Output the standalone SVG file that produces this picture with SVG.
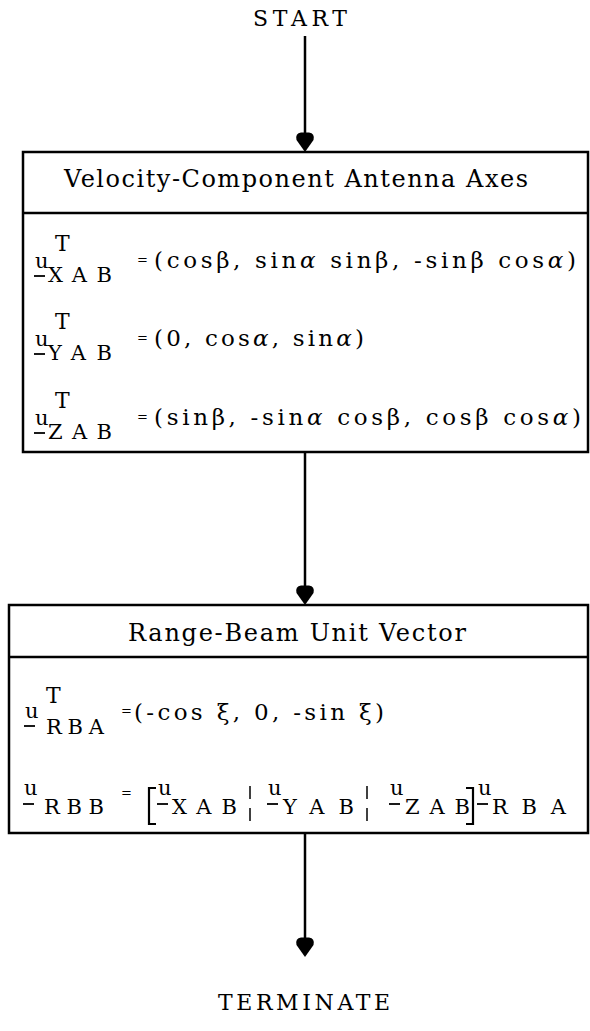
<svg xmlns="http://www.w3.org/2000/svg" width="590" height="1031" viewBox="0 0 590 1031">
<defs>
<style>
.t{font-family:"DejaVu Serif","Liberation Serif",serif;fill:#000}
.m{font-size:23px}
.hd{font-size:24px}
.h{font-size:22px}
.u{font-size:21px}
.s{font-size:21px}
.e{font-size:13px}
.box{fill:#fff;stroke:#000;stroke-width:2.5}
.rule{stroke:#000;stroke-width:2.5}
.bar{stroke:#000;stroke-width:1.8}
.brk{fill:none;stroke:#000;stroke-width:2.2}
.sep{stroke:#000;stroke-width:1.5}
.con{stroke:#000;stroke-width:2.5;fill:none}
</style>
<path id="head" d="M0,0 L-8.5,-12 Q-10,-19 -4,-19.5 L4,-19.5 Q10,-19 8.5,-12 Z"/>
</defs>
<rect width="590" height="1031" fill="#fff"/>

<!-- terminals -->
<g id="start">
<text class="t h" x="253" y="26" textLength="94">START</text>
</g>
<g id="terminate">
<text class="t h" x="218" y="1010" textLength="172">TERMINATE</text>
</g>

<!-- block 1: antenna axes -->
<g id="antenna-axes">
<rect class="box" x="23" y="152" width="565" height="300"/>
<line class="rule" x1="23" y1="213" x2="588" y2="213"/>
<text class="t hd" x="64" y="187" textLength="464">Velocity-Component Antenna Axes</text>

<text class="t u" x="35" y="268">u</text>
<line class="bar" x1="34" y1="276" x2="45" y2="276"/>
<text class="t h" x="55" y="251">T</text>
<text class="t s" x="48" y="282" textLength="64">XAB</text>
<text class="t e" x="137" y="264">=</text>
<text class="t m" x="154" y="268" textLength="422">(cosβ, sin<tspan font-style="italic">α</tspan> sinβ, -sinβ cos<tspan font-style="italic">α</tspan>)</text>

<text class="t u" x="35" y="346">u</text>
<line class="bar" x1="34" y1="354" x2="45" y2="354"/>
<text class="t h" x="55" y="329">T</text>
<text class="t s" x="48" y="360" textLength="64">YAB</text>
<text class="t e" x="137" y="342">=</text>
<text class="t m" x="154" y="346" textLength="210">(0, cos<tspan font-style="italic">α</tspan>, sin<tspan font-style="italic">α</tspan>)</text>

<text class="t u" x="35" y="425">u</text>
<line class="bar" x1="34" y1="433" x2="45" y2="433"/>
<text class="t h" x="55" y="408">T</text>
<text class="t s" x="48" y="439" textLength="64">ZAB</text>
<text class="t e" x="137" y="421">=</text>
<text class="t m" x="154" y="425" textLength="427">(sinβ, -sin<tspan font-style="italic">α</tspan> cosβ, cosβ cos<tspan font-style="italic">α</tspan>)</text>
</g>

<!-- block 2: range-beam unit vector -->
<g id="range-beam">
<rect class="box" x="9" y="605" width="579" height="228"/>
<line class="rule" x1="9" y1="657" x2="588" y2="657"/>
<text class="t hd" x="128" y="641" textLength="338">Range-Beam Unit Vector</text>

<text class="t u" x="25" y="718">u</text>
<line class="bar" x1="24" y1="726" x2="35" y2="726"/>
<text class="t h" x="46" y="703">T</text>
<text class="t s" x="46" y="734" textLength="58">RBA</text>
<text class="t e" x="121" y="715">=</text>
<text class="t m" x="134" y="720" textLength="250">(-cos ξ, 0, -sin ξ)</text>

<text class="t u" x="24" y="795">u</text>
<line class="bar" x1="23" y1="804" x2="34" y2="804"/>
<text class="t s" x="44" y="814" textLength="60">RBB</text>
<text class="t e" x="121" y="797">=</text>
<path class="brk" d="M156,788 H149 V824 H156"/>
<text class="t u" x="158" y="795">u</text>
<line class="bar" x1="157" y1="804" x2="168" y2="804"/>
<text class="t s" x="172" y="814" textLength="65">XAB</text>
<line class="sep" x1="250" y1="786" x2="250" y2="799"/>
<line class="sep" x1="250" y1="808" x2="250" y2="821"/>
<text class="t u" x="268" y="795">u</text>
<line class="bar" x1="267" y1="804" x2="278" y2="804"/>
<text class="t s" x="283" y="814" textLength="71">YAB</text>
<line class="sep" x1="367" y1="786" x2="367" y2="799"/>
<line class="sep" x1="367" y1="808" x2="367" y2="821"/>
<text class="t u" x="390" y="795">u</text>
<line class="bar" x1="389" y1="804" x2="400" y2="804"/>
<text class="t s" x="405" y="814" textLength="65">ZAB</text>
<path class="brk" d="M466,788 H473 V824 H466"/>
<text class="t u" x="478" y="795">u</text>
<line class="bar" x1="477" y1="804" x2="488" y2="804"/>
<text class="t s" x="492" y="814" textLength="74">RBA</text>
</g>

<!-- flow connectors -->
<g id="connectors">
<line class="con" x1="305" y1="36" x2="305" y2="136"/>
<use href="#head" x="305" y="152"/>
<line class="con" x1="305" y1="452" x2="305" y2="589"/>
<use href="#head" x="305" y="605"/>
<line class="con" x1="305" y1="833" x2="305" y2="941"/>
<use href="#head" x="305" y="957"/>
</g>
</svg>
